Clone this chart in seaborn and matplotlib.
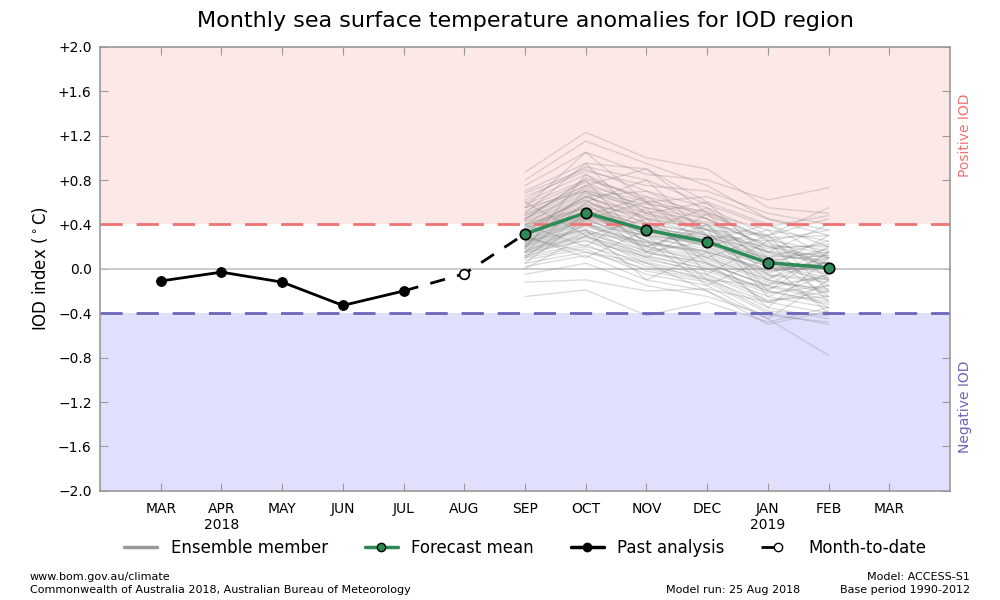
import numpy as np
import pandas as pd
import matplotlib
matplotlib.use("Agg")
import matplotlib.pyplot as plt
import seaborn as sns
from matplotlib.lines import Line2D

# ---------------- data ----------------
months = ["MAR", "APR\n2018", "MAY", "JUN", "JUL", "AUG", "SEP", "OCT", "NOV",
          "DEC", "JAN\n2019", "FEB", "MAR"]
past_idx = [0, 1, 2, 3, 4]
past_vals = [-0.11, -0.03, -0.12, -0.33, -0.20]
mtd_idx = [4, 5, 6]
mtd_vals = [-0.20, -0.045, 0.315]
fc_idx = [6, 7, 8, 9, 10, 11]
fc_vals = [0.315, 0.505, 0.35, 0.243, 0.055, 0.01]

ensemble_members = [
    [0.87, 1.23, 1.00, 0.90, 0.55, 0.50],
    [0.80, 1.15, 0.95, 0.75, 0.45, 0.30],
    [0.75, 1.05, 0.85, 0.80, 0.62, 0.73],
    [0.70, 0.95, 0.90, 0.60, 0.40, 0.20],
    [0.68, 0.90, 0.70, 0.55, 0.30, 0.55],
    [0.65, 0.88, 0.75, 0.70, 0.50, 0.40],
    [0.60, 0.85, 0.60, 0.45, 0.20, 0.10],
    [0.58, 0.80, 0.65, 0.50, 0.35, 0.25],
    [0.55, 0.78, 0.55, 0.40, 0.15, 0.05],
    [0.52, 0.75, 0.60, 0.65, 0.45, 0.35],
    [0.50, 0.72, 0.50, 0.35, 0.10, 0.15],
    [0.48, 0.70, 0.45, 0.30, 0.25, 0.00],
    [0.46, 0.68, 0.55, 0.45, 0.20, 0.20],
    [0.45, 0.66, 0.40, 0.25, 0.05, -0.05],
    [0.43, 0.64, 0.50, 0.40, 0.30, 0.45],
    [0.42, 0.62, 0.35, 0.20, -0.05, -0.10],
    [0.40, 0.60, 0.45, 0.35, 0.15, 0.10],
    [0.38, 0.58, 0.30, 0.15, 0.00, 0.05],
    [0.37, 0.56, 0.42, 0.30, 0.10, -0.15],
    [0.36, 0.55, 0.38, 0.28, 0.08, 0.12],
    [0.35, 0.54, 0.25, 0.10, -0.10, -0.20],
    [0.34, 0.52, 0.40, 0.32, 0.12, 0.08],
    [0.33, 0.50, 0.28, 0.18, -0.02, 0.02],
    [0.32, 0.48, 0.33, 0.22, 0.04, -0.08],
    [0.31, 0.47, 0.36, 0.26, 0.06, 0.18],
    [0.30, 0.46, 0.20, 0.05, -0.15, -0.25],
    [0.29, 0.45, 0.32, 0.20, 0.02, 0.00],
    [0.28, 0.44, 0.26, 0.12, -0.08, 0.06],
    [0.27, 0.43, 0.30, 0.24, 0.10, -0.02],
    [0.26, 0.42, 0.18, 0.08, -0.12, -0.18],
    [0.25, 0.41, 0.22, 0.16, -0.04, 0.10],
    [0.24, 0.40, 0.15, 0.02, -0.20, -0.30],
    [0.23, 0.38, 0.24, 0.14, -0.06, -0.12],
    [0.22, 0.36, 0.12, 0.00, -0.18, -0.05],
    [0.21, 0.35, 0.20, 0.10, -0.10, -0.22],
    [0.20, 0.34, 0.10, -0.05, -0.25, -0.35],
    [0.19, 0.32, 0.16, 0.04, -0.14, -0.08],
    [0.18, 0.30, 0.05, -0.10, -0.30, -0.40],
    [0.17, 0.29, 0.14, 0.06, -0.16, -0.28],
    [0.16, 0.28, 0.08, -0.02, -0.22, -0.15],
    [0.15, 0.26, 0.02, -0.08, -0.35, -0.45],
    [0.14, 0.25, 0.11, 0.00, -0.20, -0.32],
    [0.12, 0.22, -0.02, -0.12, -0.40, -0.50],
    [0.10, 0.20, 0.06, -0.06, -0.28, -0.25],
    [0.08, 0.18, -0.05, -0.15, -0.45, -0.78],
    [0.05, 0.15, 0.00, -0.10, -0.38, -0.42],
    [0.02, 0.12, -0.10, -0.20, -0.50, -0.38],
    [-0.05, 0.05, -0.15, -0.25, -0.42, -0.48],
    [-0.12, -0.10, -0.20, -0.18, -0.30, -0.20],
    [-0.25, -0.19, -0.42, -0.30, -0.48, -0.35],
    [0.62, 0.92, 0.80, 0.58, 0.38, 0.48],
    [0.44, 0.82, 0.62, 0.48, 0.28, 0.30],
    [0.39, 0.74, 0.52, 0.42, 0.22, 0.14],
    [0.33, 0.65, 0.46, 0.36, 0.18, 0.22],
    [0.28, 0.58, 0.48, 0.38, 0.14, 0.04],
    [0.24, 0.52, 0.36, 0.30, 0.08, -0.04],
    [0.20, 0.46, 0.34, 0.28, 0.16, 0.12],
    [0.15, 0.40, 0.30, 0.22, 0.02, -0.10],
    [0.10, 0.33, 0.24, 0.16, -0.02, 0.06],
    [0.55, 0.70, 0.58, 0.52, 0.26, 0.16],
    [0.05, 0.45, 0.60, 0.20, 0.35, -0.10],
    [0.60, 0.30, 0.10, 0.40, -0.20, 0.15],
    [0.20, 0.70, 0.15, 0.50, 0.00, 0.30],
    [0.40, 0.20, 0.55, -0.05, 0.25, -0.30],
    [0.15, 0.60, 0.80, 0.30, -0.10, 0.20],
    [0.50, 0.95, 0.40, 0.10, 0.30, -0.20],
    [0.30, 0.10, 0.35, 0.55, 0.15, 0.40],
    [0.45, 0.80, 0.20, 0.35, -0.25, -0.05],
    [0.10, 0.50, 0.25, -0.15, 0.10, 0.25],
    [0.35, 0.65, 0.70, 0.45, 0.05, -0.40],
    [0.25, 0.35, -0.10, 0.15, -0.35, 0.10],
    [0.55, 1.05, 0.60, 0.30, 0.20, 0.05],
    [0.00, 0.30, 0.45, 0.05, -0.30, -0.15],
    [0.40, 0.55, 0.15, 0.25, 0.40, 0.10],
    [0.18, 0.85, 0.50, 0.60, 0.10, -0.25],
    [0.28, 0.15, 0.05, -0.20, -0.45, -0.10],
    [0.48, 0.75, 0.90, 0.50, 0.25, 0.35],
    [0.12, 0.40, 0.20, 0.40, -0.05, -0.35],
    [0.38, 0.62, 0.30, -0.10, -0.15, 0.15],
    [0.22, 0.48, 0.65, 0.35, 0.30, 0.00],
]

yticks = [-2.0, -1.6, -1.2, -0.8, -0.4, 0.0, 0.4, 0.8, 1.2, 1.6, 2.0]

# ---------------- data frames ----------------
ens_rows = []
for m, vals in enumerate(ensemble_members):
    for i, v in zip(fc_idx, vals):
        ens_rows.append({"member": m, "x": i, "y": v})
ens_df = pd.DataFrame(ens_rows)
past_df = pd.DataFrame({"x": past_idx, "y": past_vals})
mtd_df = pd.DataFrame({"x": mtd_idx, "y": mtd_vals})
fc_df = pd.DataFrame({"x": fc_idx, "y": fc_vals})

# ---------------- plot ----------------
sns.set_style("ticks")
plt.rcParams["font.family"] = ["DejaVu Sans"]
for k in ["text.color", "axes.labelcolor", "xtick.labelcolor", "ytick.labelcolor"]:
    plt.rcParams[k] = "black"

fig = plt.figure(figsize=(10, 6), dpi=100)
ax = fig.add_axes([0.10, 0.182, 0.85, 0.740])

pos_col = "#f07373"
neg_col = "#6a66b8"
ax.axhspan(0.4, 2.0, color="#fde8e8", zorder=0, lw=0)
ax.axhspan(-2.0, -0.4, color="#e0e0fd", zorder=0, lw=0)
ax.axhline(0.0, color="#c4c4c4", lw=1.2, zorder=1)
ax.axhline(0.4, color=pos_col, lw=2, dashes=(8, 5), zorder=2.5)
ax.axhline(-0.4, color=neg_col, lw=2, dashes=(8, 5), zorder=2.5)

sns.lineplot(data=ens_df, x="x", y="y", units="member", estimator=None,
             color="#808080", alpha=0.27, lw=1.0, ax=ax, zorder=2, legend=False)

ax.plot(mtd_df["x"], mtd_df["y"], color="black", lw=2, dashes=(5.5, 4.5), zorder=3)
ax.plot([mtd_idx[1]], [mtd_vals[1]], "o", mfc="white", mec="black", mew=1.2,
        ms=7, zorder=4)
sns.lineplot(data=past_df, x="x", y="y", color="black", lw=2, marker="o",
             markersize=7, markeredgecolor="black", ax=ax, zorder=4)
sns.lineplot(data=fc_df, x="x", y="y", color="#2e8b57", lw=2.5, marker="o",
             markersize=7.5, markerfacecolor="#2e8b57", markeredgecolor="black",
             markeredgewidth=1.2, ax=ax, zorder=5)

ax.set_xlim(-1, 13)
ax.set_ylim(-2, 2)
ax.set_xticks(range(len(months)))
ax.set_xticklabels(months, fontsize=10)
ax.set_yticks(yticks)
ax.set_yticklabels([("+%.1f" % v if v > 0 else ("0.0" if v == 0 else "\u2212%.1f" % abs(v)))
                    for v in yticks], fontsize=10)
ax.tick_params(axis="both", direction="in", length=6, color="#999999",
               top=True, right=True, pad=6)
ax.tick_params(axis="x", pad=8)
for s in ax.spines.values():
    s.set_color("#999999")
    s.set_linewidth(1.2)
ax.set_xlabel("")
ax.set_ylabel(r"IOD index ($^\circ$C)", fontsize=12, labelpad=6)
ax.set_title("Monthly sea surface temperature anomalies for IOD region",
             fontsize=16, pad=14)

ax.text(1.018, 0.80, "Positive IOD", transform=ax.transAxes, rotation=90,
        color=pos_col, fontsize=10, ha="center", va="center")
ax.text(1.018, 0.19, "Negative IOD", transform=ax.transAxes, rotation=90,
        color=neg_col, fontsize=10, ha="center", va="center")

handles = [
    Line2D([], [], color="#999999", lw=2.5),
    Line2D([], [], color="#2e8b57", lw=2.5, marker="o", mfc="#2e8b57",
           mec="black", ms=6),
    Line2D([], [], color="black", lw=2.5, marker="o", ms=6),
    Line2D([], [], color="black", lw=2, dashes=(4.5, 50), marker="o", mfc="white",
           mec="black", ms=6),
]
labels = ["Ensemble member", "Forecast mean", "Past analysis", "Month-to-date"]
fig.legend(handles, labels, loc="center", bbox_to_anchor=(0.525, 0.087),
           ncol=4, frameon=False, fontsize=12, handlelength=2.0,
           handletextpad=0.8, columnspacing=2.2)

fig.text(0.03, 0.028, "www.bom.gov.au/climate\nCommonwealth of Australia 2018, Australian Bureau of Meteorology",
         fontsize=8, ha="left", va="center", linespacing=1.4)
fig.text(0.80, 0.017, "Model run: 25 Aug 2018", fontsize=8, ha="right", va="center")
fig.text(0.97, 0.028, "Model: ACCESS-S1\nBase period 1990-2012", fontsize=8,
         ha="right", va="center", linespacing=1.4, multialignment="right")

fig.savefig("out.png", dpi=100)
